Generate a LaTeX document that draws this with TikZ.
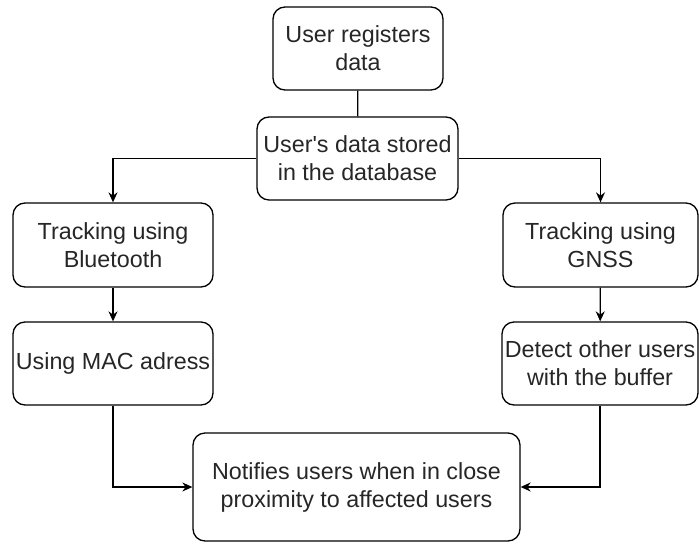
\documentclass[tikz,border=0pt]{standalone}
\usepackage{fontspec}
\setmainfont{Liberation Sans}
\usepackage{xcolor}
\usepackage{tikz}
\usetikzlibrary{arrows.meta}

\begin{document}
\begin{tikzpicture}[x=1pt, y=-1pt,
    box/.style={draw, line width=1.3pt, rounded corners=12, inner sep=0pt, align=center,
      text=black!85, minimum width=200, minimum height=83, font=\fontsize{23.3}{28}\selectfont},
    link/.style={line width=1.3pt, -{Stealth[length=10pt,width=9pt]}}]
      \useasboundingbox (0,0) rectangle (699,544);
      \node[box, minimum width=170] (A) at (358,48.5) {User registers\\data};
      \node[box, minimum width=201] (B) at (357.5,158.5) {User\textquotesingle s data stored\\in the database};
      \node[box, minimum height=84] (C) at (113,245) {Tracking using\\Bluetooth};
      \node[box, minimum width=195, minimum height=84] (D) at (600.5,245) {Tracking using\\GNSS};
      \node[box] (E) at (113,363.5) {Using MAC adress};
      \node[box, minimum width=196] (F) at (600,363.5) {Detect other users\\with the buffer};
      \node[box, minimum width=327, minimum height=108] (G) at (356.5,487) {Notifies users when in close\\proximity to affected users};
        % Comments
      \draw[line width=1.3pt] (A) -- (B);
      \draw[link] (B.west) -| (C.north);
      \draw[link] (B.east) -| (D.north);
      \draw[link] (C) -- (E);
      \draw[link] (D) -- (F);
      \draw[link] (E.south) |- (G.west);
      \draw[link] (F.south) |- (G.east);
    \end{tikzpicture}
\end{document}
